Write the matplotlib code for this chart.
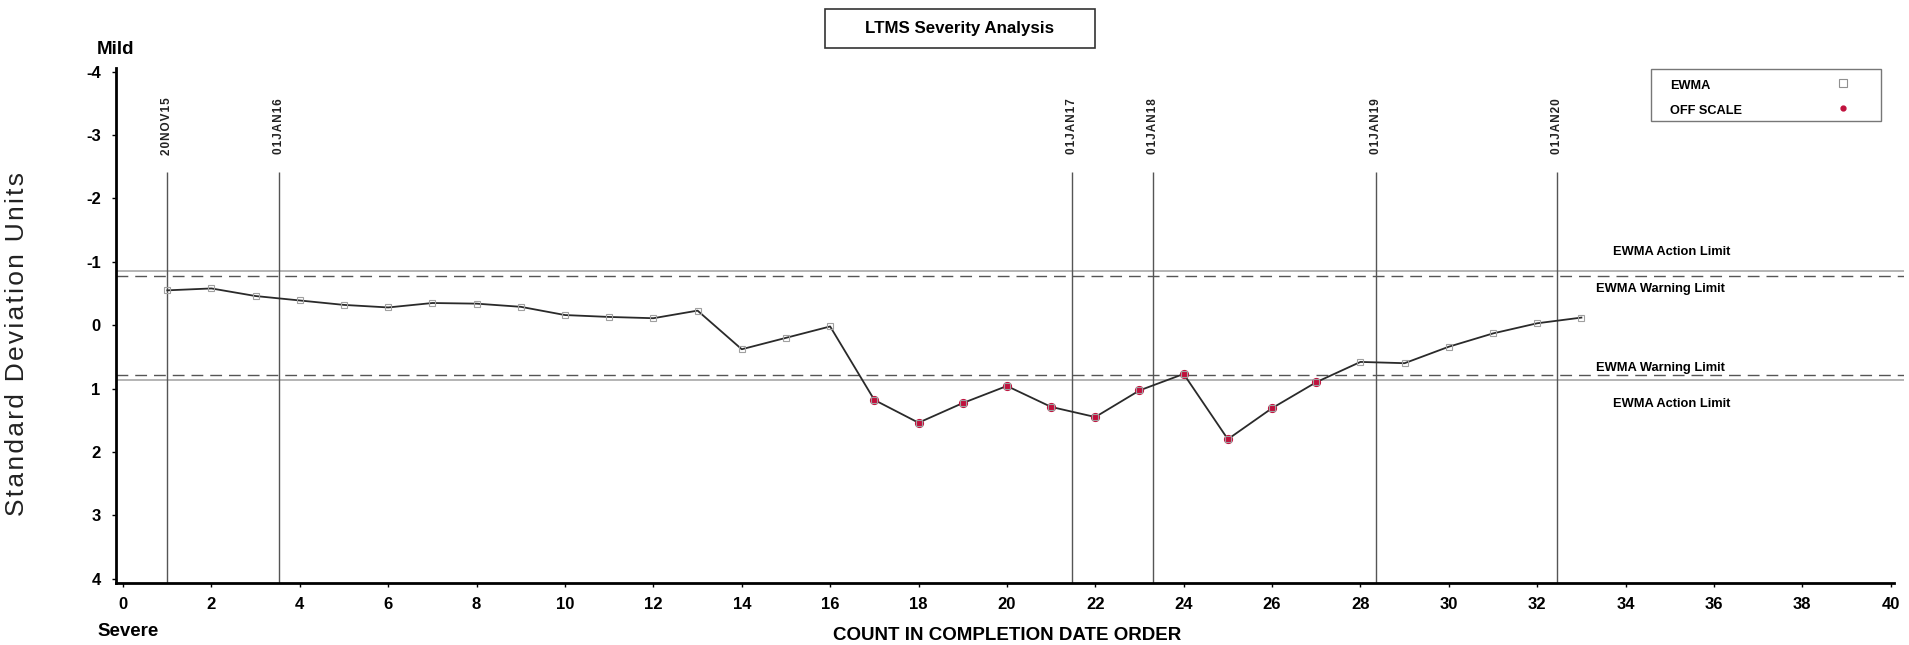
import matplotlib
matplotlib.use("Agg")
import matplotlib.pyplot as plt
from matplotlib import font_manager as fm
from matplotlib.patches import Rectangle
from matplotlib.lines import Line2D

# ---------------- data ----------------
counts = list(range(1, 34))
ewma = [-0.55, -0.58, -0.46, -0.39, -0.32, -0.28, -0.35, -0.34, -0.29, -0.16,
        -0.13, -0.11, -0.23, 0.38, 0.20, 0.02, 1.18, 1.54, 1.23, 0.96,
        1.29, 1.45, 1.03, 0.77, 1.80, 1.31, 0.90, 0.58, 0.60, 0.34,
        0.13, -0.03, -0.12]
off_scale_counts = list(range(17, 28))
date_labels = ["20NOV15", "01JAN16", "01JAN17", "01JAN18", "01JAN19", "01JAN20"]
date_positions = [1.0, 3.52, 21.48, 23.3, 28.35, 32.44]
action_limit = 0.86
warning_limit = 0.78
x_ticks = list(range(0, 41, 2))
y_ticks = [-4, -3, -2, -1, 0, 1, 2, 3, 4]
y_tick_labels = ["-4", "-3", "-2", "-1", "0", "1", "2", "3", "4"]

# ---------------- fonts ----------------
names = {f.name for f in fm.fontManager.ttflist}
MAIN = "Liberation Sans" if "Liberation Sans" in names else "DejaVu Sans"
NARROW = "Liberation Sans Narrow" if "Liberation Sans Narrow" in names else MAIN
plt.rcParams["font.family"] = [MAIN, "DejaVu Sans"]

HAIR = "\u200a"

def spaced(s):
    return HAIR.join(s)

W, H = 1909, 645
fig = plt.figure(figsize=(W / 100, H / 100), dpi=100)
fig.patch.set_facecolor("white")

def fx(px):
    return px / W

def fy(py):
    return 1 - py / H

ax = fig.add_axes([fx(116), fy(583), fx(1904) - fx(116), fy(68) - fy(583)])
ax.set_xlim(-0.16, 40.3)
ax.set_ylim(4.07, -4.06)

# spines
for s in ["top", "right"]:
    ax.spines[s].set_visible(False)
ax.spines["left"].set_linewidth(2.0)
ax.spines["bottom"].set_linewidth(2.0)
ax.spines["bottom"].set_bounds(-0.16, 40.08)

ax.set_xticks(x_ticks)
ax.set_xticklabels([str(t) for t in x_ticks])
ax.set_yticks(y_ticks)
ax.set_yticklabels(y_tick_labels)
ax.tick_params(axis="x", direction="out", length=3, width=1, pad=7,
               labelsize=12)
ax.tick_params(axis="y", direction="out", length=3, width=1, pad=8,
               labelsize=12)
for lab in ax.get_xticklabels() + ax.get_yticklabels():
    lab.set_fontweight("bold")

# limit lines
ax.axhline(-action_limit, color="#a8a8a8", lw=1.2, zorder=1)
ax.axhline(action_limit, color="#a8a8a8", lw=1.2, zorder=1)
ax.axhline(-warning_limit, color="#555555", lw=1.0, dashes=(8.5, 5), zorder=1)
ax.axhline(warning_limit, color="#555555", lw=1.0, dashes=(8.5, 5), zorder=1)

# date lines and labels
ax.vlines(date_positions, ymin=-2.42, ymax=4.07, color="#555555", lw=1.0,
          zorder=1)
for xp, lab in zip(date_positions, date_labels):
    ax.text(xp, -3.14, spaced(lab), rotation=90, ha="center", va="center",
            fontsize=8.5, fontweight="bold", family=[NARROW, "DejaVu Sans"],
            color="#222222")

# limit labels
LS = 9.3
ax.text(33.71, -1.15, "EWMA Action Limit", fontsize=LS, fontweight="bold",
        ha="left", va="center")
ax.text(33.33, -0.57, "EWMA Warning Limit", fontsize=LS, fontweight="bold",
        ha="left", va="center")
ax.text(33.33, 0.68, "EWMA Warning Limit", fontsize=LS, fontweight="bold",
        ha="left", va="center")
ax.text(33.71, 1.25, "EWMA Action Limit", fontsize=LS, fontweight="bold",
        ha="left", va="center")

# data
ax.plot(counts, ewma, color="#2a2a2a", lw=1.3, zorder=3)
off_vals = [ewma[counts.index(c)] for c in off_scale_counts]
ax.plot(off_scale_counts, off_vals, ls="none", marker="o", ms=5.6,
        color="#c0103c", zorder=4)
ax.plot(counts, ewma, ls="none", marker="s", ms=5.0, mfc="none",
        mec="#a0a0a0", mew=0.8, zorder=5)

# title box
fig.add_artist(Rectangle((fx(825), fy(48)), fx(1095) - fx(825), fy(9) - fy(48),
                         transform=fig.transFigure, fill=False,
                         edgecolor="#333333", lw=1.2))
fig.text(fx(960), fy(29), "LTMS Severity Analysis", ha="center", va="center",
         fontsize=12.2, fontweight="bold")

# legend box
fig.add_artist(Rectangle((fx(1651), fy(121)), fx(1881) - fx(1651),
                         fy(69) - fy(121), transform=fig.transFigure,
                         fill=False, edgecolor="#777777", lw=1.0))
fig.text(fx(1670), fy(86), "EWMA", ha="left", va="center", fontsize=9.2,
         fontweight="bold")
fig.text(fx(1670), fy(111), "OFF SCALE", ha="left", va="center", fontsize=9.2,
         fontweight="bold")
fig.add_artist(Line2D([fx(1843)], [fy(83)], transform=fig.transFigure,
                      marker="s", ms=6, mfc="none", mec="#909090", mew=0.8,
                      ls="none"))
fig.add_artist(Line2D([fx(1843)], [fy(108)], transform=fig.transFigure,
                      marker="o", ms=3.5, color="#c0103c", ls="none"))

# axis texts
fig.text(fx(97), fy(50), "Mild", ha="left", va="center", fontsize=13.5,
         fontweight="bold")
fig.text(fx(97), fy(632), "Severe", ha="left", va="center", fontsize=13.5,
         fontweight="bold")
fig.text(fx(1007), fy(636), "COUNT IN COMPLETION DATE ORDER", ha="center",
         va="center", fontsize=13.5, fontweight="bold")
fig.text(fx(17), fy(344), spaced("Standard Deviation Units"), rotation=90,
         ha="center", va="center", fontsize=19,
         family=[NARROW, "DejaVu Sans"], color="#222222")

fig.savefig("out.png", dpi=100)
